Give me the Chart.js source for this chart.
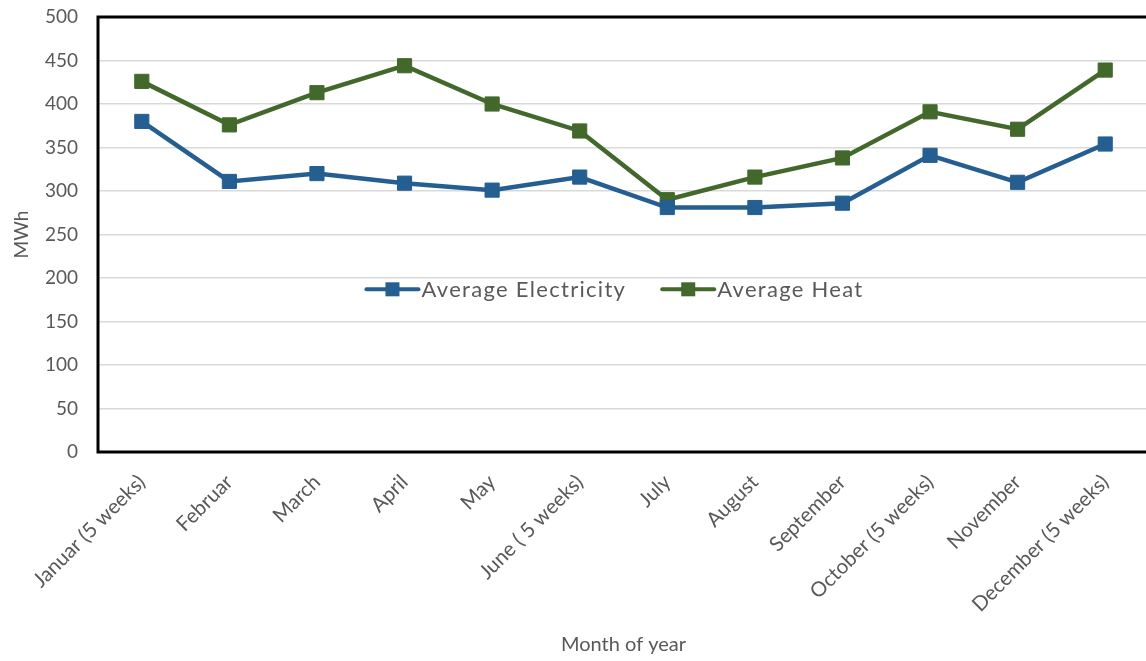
<!DOCTYPE html>
<html>
<head>
<meta charset="utf-8">
<title>Average Electricity and Heat by Month</title>
<script src="https://cdn.jsdelivr.net/npm/chart.js@4"></script>
<style>
  html, body { margin: 0; padding: 0; background: #ffffff; overflow: hidden; }
  #wrap { width: 1160px; height: 661px; position: relative; }
</style>
</head>
<body>
<div id="wrap"><canvas id="chart"></canvas></div>
<script>
// Months (x categories)
const months = [
  'Januar (5 weeks)', 'Februar', 'March', 'April', 'May', 'June ( 5 weeks)',
  'July', 'August', 'September', 'October (5 weeks)', 'November', 'December (5 weeks)'
];

// Monthly averages, MWh
const avgElectricity = [380, 311, 320, 309, 301, 316, 281, 281, 286, 341, 310, 354];
const avgHeat        = [426, 376, 413, 444, 400, 369, 290, 316, 338, 391, 371, 439];

// Value axis
const yMin = 0;
const yMax = 500;
const yStep = 50;

const axisTitleX = 'Month of year';
const axisTitleY = 'MWh';

const FONT = 'Lato, "Open Sans", sans-serif';
const TEXT_GREY = '#595959';
const BLUE = '#255e91';
const GREEN = '#43682b';

// Frame on top, left and bottom of the plot area
const framePlugin = {
  id: 'frame',
  afterDatasetsDraw(chart) {
    const { ctx, chartArea: a } = chart;
    ctx.save();
    ctx.strokeStyle = '#000000';
    ctx.lineWidth = 3;
    ctx.beginPath();
    ctx.moveTo(a.right + 2, a.top);
    ctx.lineTo(a.left, a.top);
    ctx.lineTo(a.left, a.bottom);
    ctx.lineTo(a.right + 2, a.bottom);
    ctx.stroke();
    ctx.restore();
  }
};

// Legend drawn inside the plot area, centred
const innerLegend = {
  id: 'innerLegend',
  afterDraw(chart) {
    const { ctx, chartArea: a } = chart;
    const cy = a.top + (a.bottom - a.top) * 0.626;
    ctx.save();
    ctx.font = '22px ' + FONT;
    ctx.letterSpacing = '1.3px';
    ctx.textBaseline = 'middle';
    const lineLen = 52, gapText = 3, gapItems = 36;
    const items = chart.data.datasets.map(ds => ({
      label: ds.label, color: ds.borderColor, w: ctx.measureText(ds.label).width
    }));
    const total = items.reduce((s, it) => s + lineLen + gapText + it.w, 0) + gapItems * (items.length - 1);
    let x = a.left + 517 - total / 2;
    items.forEach(it => {
      ctx.strokeStyle = it.color;
      ctx.lineWidth = 4;
      ctx.lineCap = 'round';
      ctx.beginPath();
      ctx.moveTo(x, cy);
      ctx.lineTo(x + lineLen, cy);
      ctx.stroke();
      ctx.fillStyle = it.color;
      ctx.fillRect(x + lineLen / 2 - 7, cy - 7, 14, 14);
      ctx.fillStyle = TEXT_GREY;
      ctx.textAlign = 'left';
      ctx.fillText(it.label, x + lineLen + gapText, cy + 1);
      x += lineLen + gapText + it.w + gapItems;
    });
    ctx.restore();
  }
};

const seriesStyle = (color) => ({
  borderColor: color,
  backgroundColor: color,
  borderWidth: 4.5,
  pointStyle: 'rect',
  pointRadius: 10,
  pointHoverRadius: 10,
  pointBorderWidth: 1,
  pointBorderColor: color,
  pointBackgroundColor: color,
  tension: 0,
  fill: false
});

new Chart(document.getElementById('chart'), {
  type: 'line',
  data: {
    labels: months,
    datasets: [
      Object.assign({ label: 'Average Electricity', data: avgElectricity }, seriesStyle(BLUE)),
      Object.assign({ label: 'Average Heat', data: avgHeat }, seriesStyle(GREEN))
    ]
  },
  options: {
    responsive: true,
    maintainAspectRatio: false,
    animation: false,
    layout: { padding: { top: 17, right: 0, bottom: 0, left: 0 } },
    plugins: {
      legend: { display: false },
      tooltip: { enabled: false },
      title: { display: false }
    },
    scales: {
      x: {
        offset: true,
        grid: { display: false },
        border: { display: false },
        ticks: {
          color: TEXT_GREY,
          font: { family: FONT, size: 20.5 },
          minRotation: 45,
          maxRotation: 45,
          autoSkip: false,
          padding: 10
        },
        title: {
          display: true,
          text: axisTitleX,
          color: TEXT_GREY,
          font: { family: FONT, size: 20 },
          padding: { top: 0, bottom: 4 }
        },
        afterFit(scale) { scale.height = 209; }
      },
      y: {
        min: yMin,
        max: yMax,
        grid: { color: '#d9d9d9', lineWidth: 1.5, drawTicks: false },
        border: { display: false },
        ticks: {
          stepSize: yStep,
          color: TEXT_GREY,
          font: { family: FONT, size: 19 },
          padding: 20
        },
        title: {
          display: true,
          text: axisTitleY,
          color: TEXT_GREY,
          font: { family: FONT, size: 19 },
          padding: { top: 10, bottom: 0 }
        },
        afterFit(scale) {
          scale.width = 98;
          scale.paddingTop = 0;
          scale.paddingBottom = 0;
        }
      }
    }
  },
  plugins: [framePlugin, innerLegend]
});
</script>
</body>
</html>
